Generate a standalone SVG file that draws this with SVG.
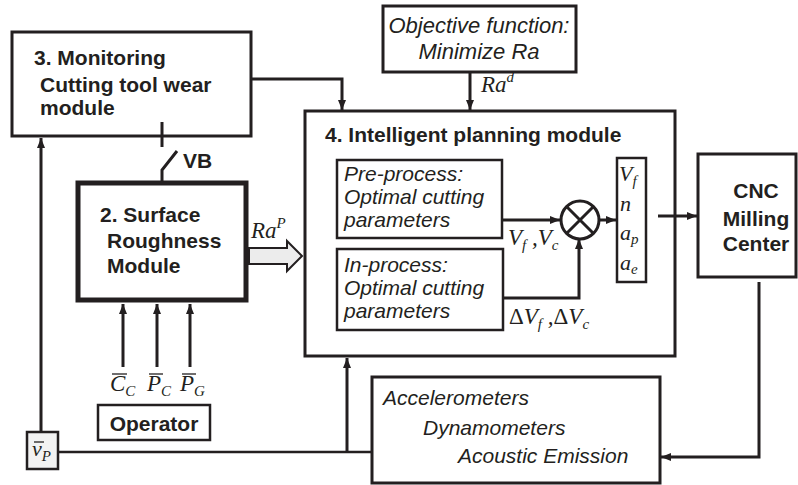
<svg xmlns="http://www.w3.org/2000/svg" width="798" height="485" viewBox="0 0 798 485">
<defs>
<marker id="ah" viewBox="0 0 10 10" refX="10" refY="5" markerWidth="10" markerHeight="10" markerUnits="userSpaceOnUse" orient="auto">
<path d="M0,1 L10,5 L0,9 Z" fill="#231f20"/>
</marker>
<style>
.box{fill:#fff;stroke:#231f20;stroke-width:3}
.thick{fill:#fff;stroke:#231f20;stroke-width:5}
.thin{fill:#fff;stroke:#231f20;stroke-width:2.5}
.ln{fill:none;stroke:#231f20;stroke-width:3}
.ln2{fill:none;stroke:#231f20;stroke-width:2.5}
.b{font-family:"Liberation Sans",Arial,sans-serif;font-weight:bold;font-size:21px;fill:#231f20}
.i{font-family:"Liberation Sans",Arial,sans-serif;font-style:italic;font-size:21px;fill:#231f20}
.m{font-family:"Liberation Serif","Times New Roman",serif;font-style:italic;font-size:23px;fill:#231f20}
.s{font-size:15px}
.ol{stroke:#231f20;stroke-width:1.3}
</style>
</defs>

<g id="monitoring">
<rect class="box" x="12" y="32" width="239" height="104"/>
<text class="b" x="34" y="65">3. Monitoring</text>
<text class="b" x="40" y="92">Cutting tool wear</text>
<text class="b" x="40" y="115">module</text>
</g>

<g id="vb-label">
<text class="b" x="183" y="168">VB</text>
</g>

<g id="objective">
<rect class="box" x="383" y="6" width="193" height="66"/>
<text class="i" x="479" y="33" text-anchor="middle" style="font-size:22px">Objective function:</text>
<text class="i" x="479" y="59" text-anchor="middle" style="font-size:22px">Minimize Ra</text>
<text class="m" x="481" y="92">Ra<tspan class="s" dy="-10">d</tspan></text>
</g>

<g id="surface">
<rect class="thick" x="78" y="183" width="168" height="117"/>
<text class="b" x="100" y="222">2. Surface</text>
<text class="b" x="107" y="248">Roughness</text>
<text class="b" x="107" y="273">Module</text>
<text class="m" x="251" y="238">Ra<tspan class="s" dy="-10">P</tspan></text>
</g>

<g id="planning">
<rect class="box" x="305" y="111" width="370" height="245"/>
<text class="b" x="325" y="142">4. Intelligent planning module</text>
</g>

<g id="preprocess">
<rect class="thin" x="337" y="160" width="165" height="78"/>
<text class="i" x="344" y="181">Pre-process:</text>
<text class="i" x="344" y="204">Optimal cutting</text>
<text class="i" x="344" y="227">parameters</text>
<text class="m" x="508" y="245">V<tspan class="s" dy="5">f</tspan><tspan dy="-5"> ,V</tspan><tspan class="s" dy="5">c</tspan></text>
</g>

<g id="inprocess">
<rect class="thin" x="337" y="249" width="166" height="81"/>
<text class="i" x="344" y="272">In-process:</text>
<text class="i" x="344" y="295">Optimal cutting</text>
<text class="i" x="344" y="318">parameters</text>
<text class="m" x="509" y="324"><tspan font-style="normal">Δ</tspan>V<tspan class="s" dy="5">f</tspan><tspan dy="-5"> ,</tspan><tspan font-style="normal">Δ</tspan>V<tspan class="s" dy="5">c</tspan></text>
</g>

<g id="sum">
<circle cx="580" cy="220" r="19" fill="#fff" stroke="#231f20" stroke-width="3"/>
<path d="M566.5,206.5 L593.5,233.5 M593.5,206.5 L566.5,233.5" stroke="#231f20" stroke-width="3"/>
</g>

<g id="params">
<rect class="thin" x="617" y="158" width="29" height="124"/>
<text class="m" x="619" y="181" style="font-size:22px">V<tspan class="s" dy="5">f</tspan></text>
<text class="m" x="620" y="211" style="font-size:22px">n</text>
<text class="m" x="620" y="240" style="font-size:22px">a<tspan class="s" dy="4">p</tspan></text>
<text class="m" x="620" y="270" style="font-size:22px">a<tspan class="s" dy="4">e</tspan></text>
</g>

<g id="cnc">
<rect class="box" x="698" y="154" width="98" height="123"/>
<text class="b" x="756" y="198" text-anchor="middle">CNC</text>
<text class="b" x="756" y="226" text-anchor="middle">Milling</text>
<text class="b" x="756" y="251" text-anchor="middle">Center</text>
</g>

<g id="sensors">
<rect class="box" x="372" y="377" width="288" height="106"/>
<text class="i" x="383" y="405">Accelerometers</text>
<text class="i" x="423" y="435">Dynamometers</text>
<text class="i" x="458" y="463">Acoustic Emission</text>
</g>

<g id="operator-inputs">
<text class="m" x="110" y="391">C<tspan class="s" dy="5">C</tspan></text>
<line class="ol" x1="112" y1="374" x2="127" y2="374"/>
<text class="m" x="147" y="391">P<tspan class="s" dy="5">C</tspan></text>
<line class="ol" x1="149" y1="374" x2="163" y2="374"/>
<text class="m" x="180" y="391">P<tspan class="s" dy="5">G</tspan></text>
<line class="ol" x1="182" y1="374" x2="196" y2="374"/>
</g>

<g id="operator">
<rect class="thin" x="98" y="405" width="112" height="35"/>
<text class="b" x="154" y="431" text-anchor="middle">Operator</text>
</g>

<g id="vp">
<rect x="27" y="432" width="31" height="37" fill="#f2f2f2" stroke="#231f20" stroke-width="2.5"/>
<text class="m" x="32" y="456" style="font-size:22px">v<tspan class="s" dy="5">P</tspan></text>
<line class="ol" x1="34" y1="442" x2="44" y2="442"/>
</g>

<g id="connectors">
<path class="ln" d="M251,79 H342 V110" marker-end="url(#ah)"/>
<path class="ln" d="M470,72 V110" marker-end="url(#ah)"/>
<path class="ln" d="M162,122 V147"/>
<path class="ln" d="M177,151 L162,170 V181"/>
<path class="ln" d="M123,367 V304" marker-end="url(#ah)"/>
<path class="ln" d="M157,367 V304" marker-end="url(#ah)"/>
<path class="ln" d="M190,367 V304" marker-end="url(#ah)"/>
<path class="ln" d="M41,432 V138" marker-end="url(#ah)"/>
<path class="ln2" d="M58,452 H372"/>
<path class="ln" d="M347,452 V358" marker-end="url(#ah)"/>
<path class="ln" d="M502,220 H560" marker-end="url(#ah)"/>
<path class="ln" d="M503,298 H579 V239" marker-end="url(#ah)"/>
<path class="ln" d="M599,220 H616" marker-end="url(#ah)"/>
<path class="ln" d="M658,216 H697" marker-end="url(#ah)"/>
<path class="ln" d="M759,282 V457 H661" marker-end="url(#ah)"/>
<path d="M249,248 H287 V241 L302,256 L287,271 V264 H249 Z" fill="#ececec" stroke="#231f20" stroke-width="2"/>
</g>
</svg>
